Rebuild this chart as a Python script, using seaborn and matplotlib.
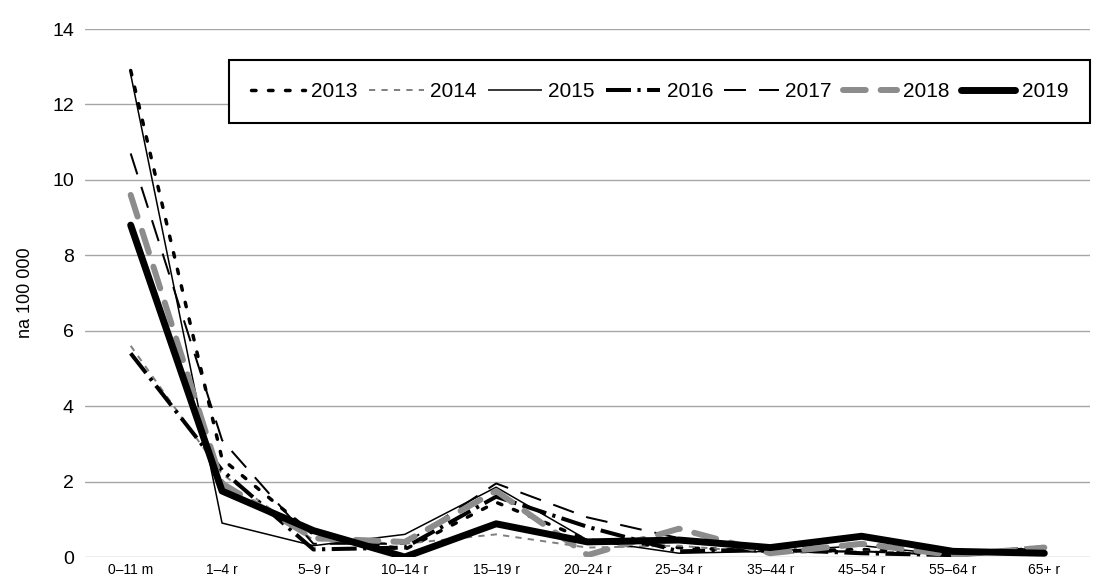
import numpy as np
import pandas as pd
import seaborn as sns
import matplotlib.pyplot as plt

sns.set_theme(style='white')
plt.rcParams['font.family'] = ['Liberation Sans', 'DejaVu Sans']
plt.rcParams['text.color'] = 'black'
plt.rcParams['xtick.color'] = 'black'
plt.rcParams['ytick.color'] = 'black'
plt.rcParams['axes.labelcolor'] = 'black'

# dane: zachorowania na 100 000 wg grup wieku
kategorie = ['0–11 m', '1–4 r', '5–9 r', '10–14 r', '15–19 r', '20–24 r',
             '25–34 r', '35–44 r', '45–54 r', '55–64 r', '65+ r']
lata = [2013, 2014, 2015, 2016, 2017, 2018, 2019]
y2013 = [12.9, 2.6, 0.6, 0.2, 1.45, 0.45, 0.25, 0.15, 0.2, 0.05, 0.25]
y2014 = [5.6, 2.2, 0.45, 0.35, 0.6, 0.25, 0.3, 0.1, 0.15, 0.1, 0.3]
y2015 = [12.8, 0.9, 0.3, 0.6, 1.85, 0.45, 0.1, 0.15, 0.3, 0.05, 0.2]
y2016 = [5.4, 2.3, 0.2, 0.25, 1.6, 0.8, 0.15, 0.2, 0.1, 0.05, 0.2]
y2017 = [10.7, 3.1, 0.35, 0.35, 1.95, 1.05, 0.5, 0.15, 0.15, 0.05, 0.25]
y2018 = [9.6, 1.95, 0.5, 0.4, 1.75, 0.05, 0.75, 0.1, 0.35, 0.05, 0.25]
y2019 = [8.8, 1.75, 0.7, 0.0, 0.88, 0.4, 0.45, 0.25, 0.55, 0.15, 0.1]
serie = [y2013, y2014, y2015, y2016, y2017, y2018, y2019]

# styl linii: kolor, grubosc, wzor kresek, zakonczenie
style = [
    ('black', 2.5, (0, (1.3, 3.6)), 'round'),
    ('#7f7f7f', 1.4, (0, (3.2, 3.2)), 'butt'),
    ('black', 1.1, '-', 'butt'),
    ('black', 2.9, (0, (6.2, 1.6, 0.8, 1.6)), 'butt'),
    ('black', 1.45, (0, (10.9, 6.5)), 'butt'),
    ('#8c8c8c', 4.3, (0, (3.8, 2.5)), 'round'),
    ('black', 5.0, '-', 'round'),
]

x = np.arange(len(kategorie))

fig = plt.figure(figsize=(11.05, 5.82), dpi=100)
ax = fig.add_axes([85/1105, 1-557/582, 1005/1105, 528/582])

for rok, wart, (kol, lw, ls, cap) in zip(lata, serie, style):
    df = pd.DataFrame({'x': x, 'y': wart})
    sns.lineplot(data=df, x='x', y='y', ax=ax, color=kol, linewidth=lw,
                 linestyle=ls, dash_capstyle=cap, solid_capstyle=cap,
                 label=str(rok), sort=False)

ax.set_xlim(-0.5, len(kategorie) - 0.5)
ax.set_ylim(0, 14)
ax.set_yticks(range(0, 15, 2))
ax.set_xticks(x)
ax.set_xticklabels(kategorie, fontsize=10)
ax.tick_params(axis='y', labelsize=14, length=0, pad=8)
ax.tick_params(axis='x', length=0, pad=4)
ax.yaxis.grid(True, color='#a6a6a6', linewidth=1)
ax.set_axisbelow(True)
for s in ax.spines.values():
    s.set_visible(False)
ax.set_xlabel('')
ax.set_ylabel('na 100 000', fontsize=13, labelpad=13)

leg = ax.legend(ncol=7, loc='upper right', bbox_to_anchor=(1.0, 0.941),
                borderaxespad=0, fontsize=15, frameon=True, fancybox=False,
                framealpha=1, edgecolor='black', handlelength=2.6,
                handletextpad=0.3, columnspacing=0.55, borderpad=1.05)
leg.get_frame().set_linewidth(1.5)

fig.savefig('out.png', dpi=100)
